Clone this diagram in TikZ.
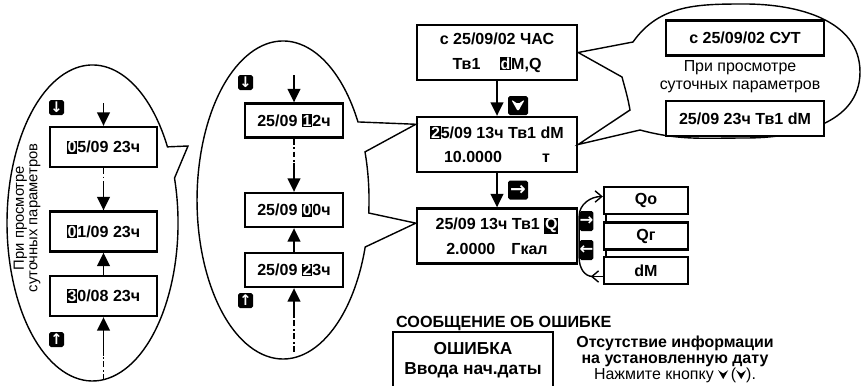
\documentclass[tikz,border=0pt]{standalone}
\usepackage{fontspec}
\setmainfont{Liberation Sans}
\newfontfamily\symfont{DejaVu Sans}
\usetikzlibrary{positioning, arrows.meta, calc}

\newcommand\hl[1]{{\setlength\fboxsep{0.7pt}\colorbox{black}{\textcolor{white}{#1}}}}
\newcommand\chev[2]{\tikz[x=#2,y=#2,baseline=0pt]\fill[#1] (0,0.62) -- (0.35,0) -- (0.7,0.62) -- (0.35,0.38) -- cycle;}

\begin{document}
\begin{tikzpicture}[x=0.03cm, y=-0.03cm,
    lcd/.style={draw, line width=2pt, fill=white, minimum width=4.8cm, minimum height=1.65cm, align=center, font=\bfseries\fontsize{13.7}{21}\selectfont},
    sub/.style={draw, line width=2pt, fill=white, minimum width=4.74cm, minimum height=1.05cm, font=\bfseries\fontsize{13.7}{15}\selectfont},
    hour/.style={draw, line width=2pt, fill=white, minimum width=2.94cm, minimum height=1.02cm, font=\bfseries\fontsize{13.7}{15}\selectfont},
    day/.style={draw, line width=2pt, fill=white, minimum width=3.21cm, minimum height=1.2cm, font=\bfseries\fontsize{13.7}{15}\selectfont},
    opt/.style={draw, line width=2pt, fill=white, minimum width=2.52cm, minimum height=0.81cm, font=\bfseries\fontsize{13.7}{15}\selectfont},
    keycap/.style={fill=black, rounded corners=1.5pt, text=white, inner sep=0pt, minimum width=0.45cm, minimum height=0.45cm, font=\symfont\bfseries\fontsize{12.5}{12.5}\selectfont},
    bigkey/.style={keycap, minimum width=0.6cm, minimum height=0.57cm, font=\symfont\bfseries\fontsize{16}{16}\selectfont},
    bubble/.style={line width=1.2pt},
    arr/.style={line width=1.5pt, -{Triangle[length=4mm, width=3.8mm]}},
    dashdot/.style={line width=1.5pt, dash pattern=on 5pt off 2.2pt on 1.6pt off 2.2pt},
    loopline/.style={line width=1.2pt},
    barb/.style={loopline, -{Straight Barb[length=2mm, width=3.4mm]}},
    note/.style={align=center, font=\fontsize{13.6}{15.4}\selectfont}
]
\useasboundingbox (0,0) rectangle (862,385);

% main chain of displays
\node[lcd] (b1) at (497,52.5) {с 25/09/02 ЧАС\\Тв1\hspace{1.2em}\hl{d}M,Q};
\node[lcd] (b2) at (497,144.5) {\hl{2}5/09 13ч Тв1 dM\\10.0000\hspace{2.5em}т};
\node[lcd] (b3) at (497,236) {25/09 13ч Тв1 \hl{Q}\\2.0000\hspace{1em}Гкал};

% right bubble (daily view)
\draw[bubble] (633,42) to[out=55,in=180] (745,4) to[out=0,in=90] (860,72)
    to[out=-90,in=0] (745,138) to[out=180,in=-15] (640,130) -- (b2.east)
    -- (630,110) to[out=100,in=-75] (622,77) -- (b1.east) -- cycle;
\node[sub] (s1) at (745,38) {с 25/09/02 СУТ\hspace{1.6em}};
\node[note] (s0) at (740,77) {При просмотре\\суточных параметров};
\node[sub] (s2) at (745,118.5) {25/09 23ч Тв1 dM};

% middle bubble (hours)
\draw[bubble] (365.2,247) arc[start angle=17.2, end angle=330.6, x radius=86, y radius=159]
    -- (b2.166) -- (365,151.9) arc[start angle=342.4, end angle=364.7, x radius=86, y radius=159]
    -- (b3.171) -- cycle;
\node[hour] (m1) at (294,120.5) {25/09 \hl{1}2ч};
\node[hour] (m2) at (294,210) {25/09 \hl{0}0ч};
\node[hour] (m3) at (294,270) {25/09 \hl{2}3ч};
\node[keycap] (mdn) at (245.5,82.5) {↓};
\node[keycap] (mup) at (245.5,300.5) {↑};
\coordinate (mtop) at (294,75);
\coordinate (mgap) at (294,163);
\coordinate (mbot) at (294,352);
\coordinate (mgap2) at (294,318);
\draw[arr] (mtop) -- (m1.north);
\draw[dashdot] (m1.south) -- (mgap);
\draw[arr] (mgap) -- (m2.north);
\draw[arr] (m3.north) -- (m2.south);
\draw[dashdot] (mbot) -- (mgap2);
\draw[arr] (mgap2) -- (m3.south);

% left bubble (days)
\draw[bubble] (174.5,178.1) arc[start angle=-16.5, end angle=331.2, x radius=85.5, y radius=158]
    -- (188,146) -- cycle;
\node[note, rotate=90, font=\fontsize{12.6}{11.5}\selectfont] (l0) at (27,218) {При просмотре\\суточных параметров};
\node[day] (l1) at (103.5,147) {\hl{0}5/09 23ч};
\node[day] (l2) at (103.5,231.5) {\hl{0}1/09 23ч};
\node[day] (l3) at (103.5,296) {\hl{3}0/08 23ч};
\node[keycap] (ldn) at (56.5,107.5) {↓};
\node[keycap] (lup) at (56.5,339.5) {↑};
\coordinate (ltop) at (103.5,103);
\coordinate (lgap) at (103.5,187);
\coordinate (lbot) at (103.5,380);
\coordinate (lgap2) at (103.5,356);
\draw[arr] (ltop) -- (l1.north);
\draw[dashdot] (l1.south) -- (lgap);
\draw[arr] (lgap) -- (l2.north);
\draw[arr] (l3.north) -- (l2.south);
\draw[dashdot] (lbot) -- (lgap2);
\draw[arr] (lgap2) -- (l3.south);

% transitions between displays
\draw[arr] (b1) -- (b2);
\draw[arr] (b2) -- (b3);
\node[bigkey] (kv) at (518,105.5) {\chev{white}{1.05em}};
\node[bigkey] (kr) at (518,190) {→};

% parameter selection loop
\node[opt] (Qo) at (646,200.5) {Qo};
\node[opt] (Qg) at (646,236) {Qг};
\node[opt] (dM) at (646,270.5) {dM};
\draw[loopline] ($(Qo.south west)+(3,0)$) -- ($(Qg.north west)+(3,0)$);
\draw[loopline] ($(Qg.south west)+(3,0)$) -- ($(dM.north west)+(3,0)$);
\draw[barb] ($(dM.west)+(-10,6)$) to[out=180,in=-90] ($(b3.east)+(1,22)$)
    -- ($(b3.east)+(1,-20)$) to[out=90,in=180] ($(Qo.west)+(0,-4)$);
\draw[barb] ($(dM.west)+(0,6)$) -- ($(dM.west)+(-12,6)$);
\node[keycap, minimum width=0.39cm, minimum height=0.6cm, font=\symfont\bfseries\fontsize{14}{14}\selectfont] (kr2) at (586.5,221) {→};
\node[keycap, minimum width=0.39cm, minimum height=0.6cm, font=\symfont\bfseries\fontsize{14}{14}\selectfont] (kl2) at (586.5,250) {←};

% error message
\node[anchor=west, font=\bfseries\fontsize{13.8}{15}\selectfont] (msg) at (392,323) {СООБЩЕНИЕ ОБ ОШИБКЕ};
\node[lcd, minimum height=1.68cm, font=\bfseries\fontsize{14.8}{17}\selectfont] (err) at (473,360) {ОШИБКА\\Ввода нач.даты};
\node[note, font=\fontsize{13.6}{13.6}\selectfont] (hint) at (675,359) {\textbf{Отсутствие информации}\\\textbf{на установленную дату}\\Нажмите кнопку \chev{black}{0.9em}\,(\chev{black}{0.9em}).};
\end{tikzpicture}
\end{document}
